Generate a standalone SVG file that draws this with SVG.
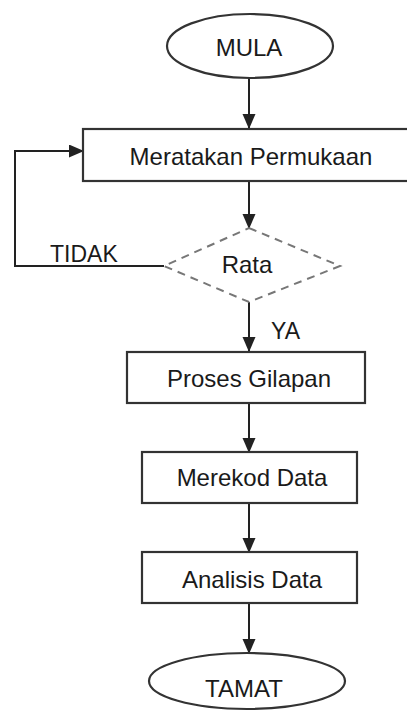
<svg xmlns="http://www.w3.org/2000/svg" width="407" height="713" viewBox="0 0 407 713">
<defs>
<style>
.box{fill:#fff;stroke:#333;stroke-width:2.2}
.dia{fill:#fff;stroke:#777;stroke-width:2;stroke-dasharray:8 6}
.ln{fill:none;stroke:#222;stroke-width:2}
.t{font-family:"Liberation Sans",Arial,sans-serif;font-size:24px;fill:#1a1a1a}
.c{text-anchor:middle}
</style>
<marker id="ah" markerWidth="16" markerHeight="14" refX="14" refY="6.5" orient="auto" markerUnits="userSpaceOnUse">
<path d="M0,0 L15,6.5 L0,13 Z" fill="#222"/>
</marker>
</defs>
<rect width="407" height="713" fill="#fff"/>
<g id="connectors">
<line class="ln" x1="249" y1="78" x2="249" y2="128" marker-end="url(#ah)"/>
<line class="ln" x1="249" y1="181" x2="249" y2="228" marker-end="url(#ah)"/>
<polyline class="ln" points="164,266 15,266 15,151 83,151" marker-end="url(#ah)"/>
<line class="ln" x1="249" y1="302" x2="249" y2="351" marker-end="url(#ah)"/>
<line class="ln" x1="249" y1="403" x2="249" y2="452" marker-end="url(#ah)"/>
<line class="ln" x1="249" y1="503" x2="249" y2="552" marker-end="url(#ah)"/>
<line class="ln" x1="249" y1="603" x2="249" y2="653" marker-end="url(#ah)"/>
<text class="t" x="50" y="262" style="font-size:23px">TIDAK</text>
<text class="t" x="271" y="339" style="font-size:23px">YA</text>
</g>
<g id="mula">
<ellipse class="box" cx="250" cy="46" rx="83" ry="32"/>
<text class="t c" x="249" y="56">MULA</text>
</g>
<g id="meratakan">
<rect class="box" x="83" y="129" width="330" height="52"/>
<text class="t c" x="251" y="165">Meratakan Permukaan</text>
</g>
<g id="rata">
<polygon class="dia" points="249,228 340,266 249,302 164,266"/>
<text class="t c" x="247" y="273">Rata</text>
</g>
<g id="proses">
<rect class="box" x="127" y="352" width="238" height="51"/>
<text class="t c" x="249" y="387">Proses Gilapan</text>
</g>
<g id="merekod">
<rect class="box" x="142" y="452" width="215" height="51"/>
<text class="t c" x="252" y="486">Merekod Data</text>
</g>
<g id="analisis">
<rect class="box" x="142" y="552" width="215" height="51"/>
<text class="t c" x="252" y="588">Analisis Data</text>
</g>
<g id="tamat">
<ellipse class="box" cx="247" cy="681" rx="98" ry="28"/>
<text class="t c" x="244" y="697">TAMAT</text>
</g>
</svg>
